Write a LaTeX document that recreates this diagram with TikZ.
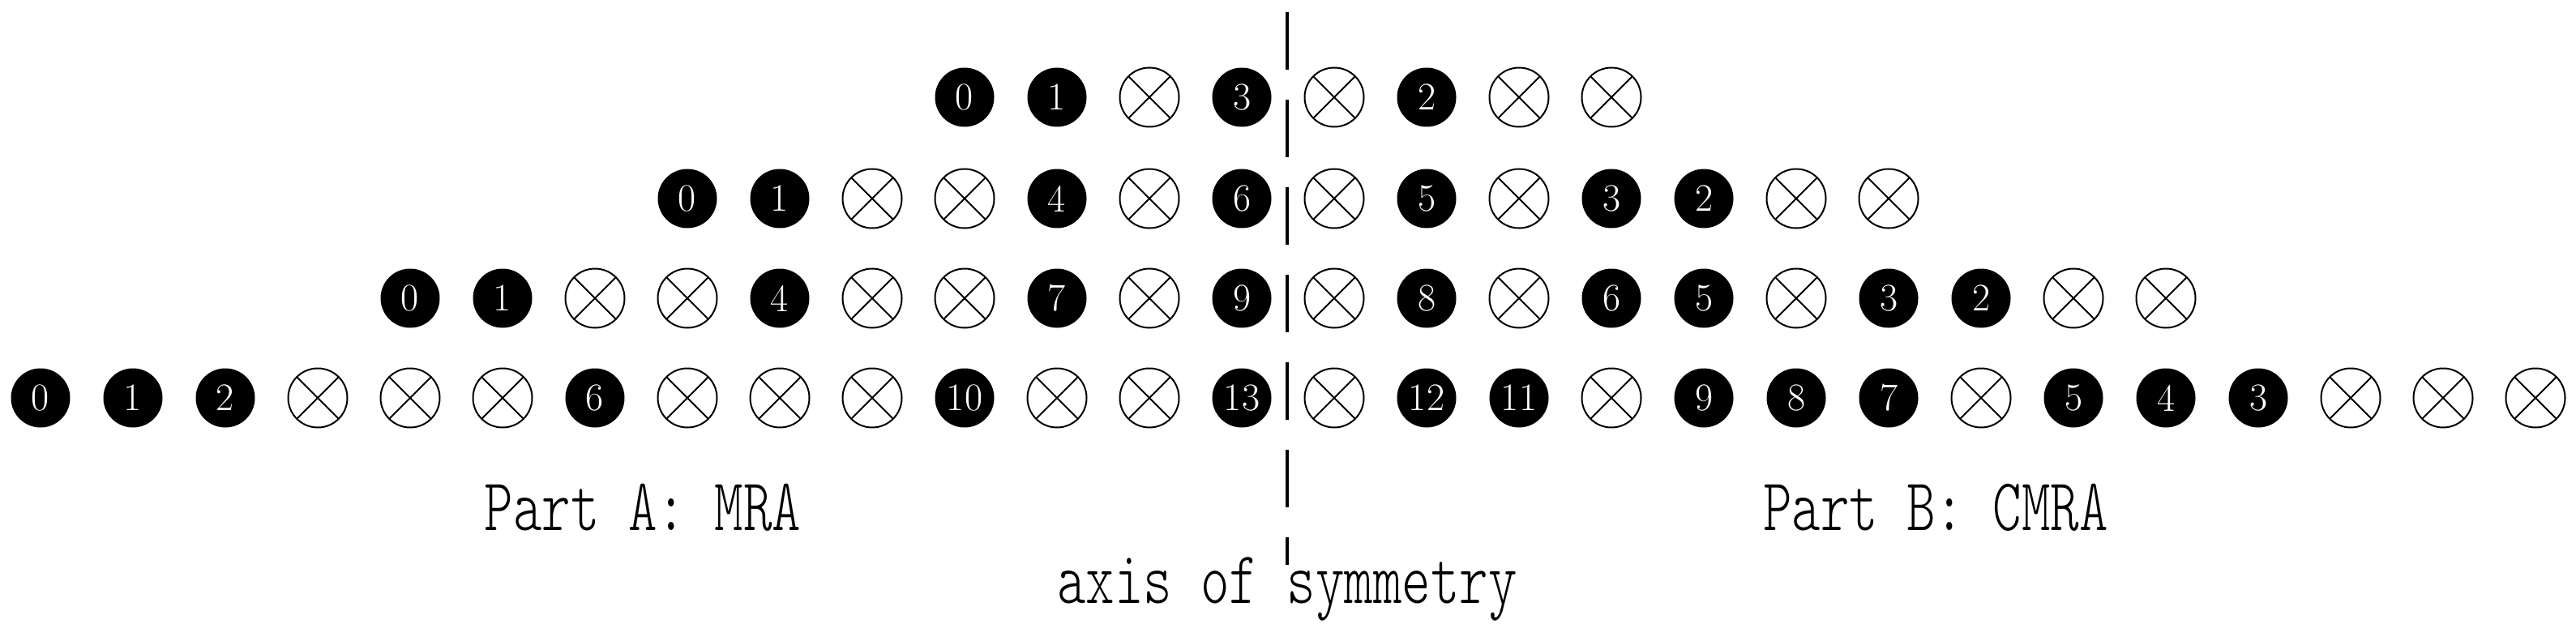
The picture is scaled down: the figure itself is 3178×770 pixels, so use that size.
\documentclass[tikz,border=0pt]{standalone}
\usepackage{fontspec}
\newfontfamily\labfont{lmmonolt10-regular}[Extension=.otf,FakeStretch=0.735]
\begin{document}
\begin{tikzpicture}[x=1pt,y=-1pt,
  cellbase/.style={circle, minimum size=73pt, inner sep=0pt},
  ncell/.style={cellbase, fill=black, text=white, font=\fontsize{48}{48}\selectfont},
  xcell/.style={cellbase, draw=black, line width=2pt,
    path picture={\draw[line width=2pt]
      (path picture bounding box.north west) -- (path picture bounding box.south east)
      (path picture bounding box.north east) -- (path picture bounding box.south west);}},
  lab/.style={font=\labfont\fontsize{92}{100}\selectfont, anchor=base, inner sep=0pt},
  axisline/.style={line width=4.5pt, dash pattern=on 71pt off 37pt}]
\useasboundingbox (0,0) rectangle (3178,770);
\def\xmark{x}
\foreach \y/\xs/\lst [count=\r] in {
  120/1190/{0,1,x,3,x,2,x,x},
  245/848/{0,1,x,x,4,x,6,x,5,x,3,2,x,x},
  368/506/{0,1,x,x,4,x,x,7,x,9,x,8,x,6,5,x,3,2,x,x},
  491/50/{0,1,2,x,x,x,6,x,x,x,10,x,x,13,x,12,11,x,9,8,7,x,5,4,3,x,x,x}}{
  \foreach \cc [count=\k from 0] in \lst {
    \ifx\cc\xmark
      \node[xcell] (c\r-\k) at ({\xs+\k*114},\y) {};
    \else
      \node[ncell] (c\r-\k) at ({\xs+\k*114},\y) {\cc};
    \fi
  }
}
\coordinate (axtop) at (1588,15);
\coordinate (axbot) at (1588,697);
\draw[axisline] (axtop) -- (axbot);
\node[lab] (partA) at (793,654) {Part A: MRA};
\node[lab] (partB) at (2388,654) {Part B: CMRA};
\node[lab] (axislab) at (1588,744) {axis of symmetry};
\end{tikzpicture}
\end{document}
